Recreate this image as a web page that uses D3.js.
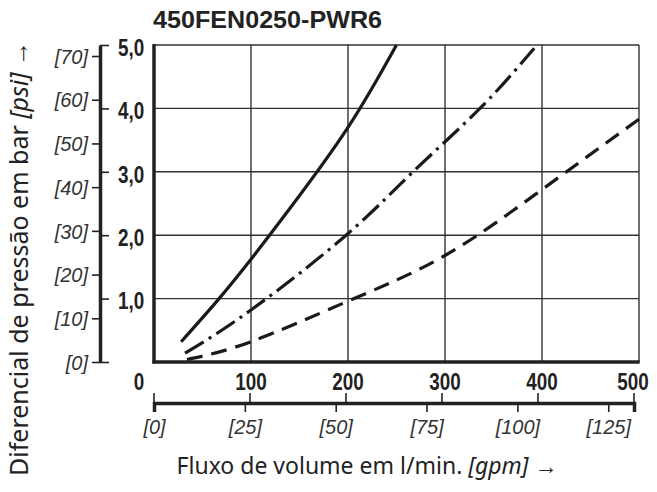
<!DOCTYPE html>
<html lang="pt">
<head>
<meta charset="UTF-8">
<title>450FEN0250-PWR6</title>
<script src="https://cdnjs.cloudflare.com/ajax/libs/d3/7.8.5/d3.min.js"></script>
<style>
	body{margin:0;background:#fff;}
	svg{display:block;}
	.num{font-family:"Liberation Sans",Arial,sans-serif;font-weight:bold;font-size:23px;fill:#222;}
	.alt{font-family:"Liberation Sans",Arial,sans-serif;font-style:italic;font-size:20px;fill:#333;}
	.ttl{font-family:"Noto Sans","Open Sans",sans-serif;font-size:23px;fill:#222;}
	.head{font-family:"Liberation Sans",Arial,sans-serif;font-weight:bold;font-size:23px;fill:#222;}
	.grid line{stroke:#333;stroke-width:1.4;}
	.curve{fill:none;stroke:#1a1a1a;stroke-width:3.2;}
</style>
</head>
<body>
<svg width="657" height="492"></svg>
<script>
// chart data
var title = "450FEN0250-PWR6";
var flowTicks = [0, 100, 200, 300, 400, 500];   // l/min
var barTicks = [0, 1, 2, 3, 4, 5];               // bar
var psiTicks = [0, 10, 20, 30, 40, 50, 60, 70];  // psi
var gpmTicks = [0, 25, 50, 75, 100, 125];        // gpm

var solidQ = [28, 66, 100, 140, 200, 250];
var solidP = [0.32, 0.98, 1.62, 2.42, 3.7, 5.0];

var dashDotQ = [32, 100, 198, 267, 336, 392];
var dashDotP = [0.14, 0.82, 2.0, 3.0, 4.0, 4.95];

var dashQ = [34, 100, 200, 300, 400, 500];
var dashP = [0.04, 0.32, 0.96, 1.68, 2.72, 3.83];

var PSI_PER_BAR = 14.5038, LPM_PER_GPM = 3.78541;

var svg = d3.select("svg");

var x = d3.scaleLinear().domain([0, 500]).range([154, 639]);
var y = d3.scaleLinear().domain([0, 5]).range([362, 45]);
var yPsi = d3.scaleLinear().domain([0, 5 * PSI_PER_BAR]).range([362, 45]);
var xGpm = d3.scaleLinear().domain([0, 500 / LPM_PER_GPM]).range([154, 634]);

// squeeze bold numbers a bit, the original uses a condensed face
function narrow(sel, k) {
	sel.each(function() {
		var w = this.getComputedTextLength();
		if (w > 0) d3.select(this).attr("textLength", w * k).attr("lengthAdjust", "spacingAndGlyphs");
	});
}

// grid
var grid = svg.append("g").attr("class", "grid");
grid.selectAll(".v").data(flowTicks.slice(1)).enter().append("line")
	.attr("x1", d => x(d)).attr("x2", d => x(d))
	.attr("y1", y(0)).attr("y2", y(5));
grid.selectAll(".h").data(barTicks.slice(1)).enter().append("line")
	.attr("x1", x(0)).attr("x2", x(500))
	.attr("y1", d => y(d)).attr("y2", d => y(d));

// thick frame left + bottom
svg.append("line").attr("x1", x(0)).attr("x2", x(0)).attr("y1", y(5) - 1).attr("y2", y(0) + 1.5)
	.attr("stroke", "#222").attr("stroke-width", 3.5);
svg.append("line").attr("x1", x(0) - 1.5).attr("x2", x(500) + 0.7).attr("y1", y(0)).attr("y2", y(0))
	.attr("stroke", "#222").attr("stroke-width", 3.5);

// curves
var line = d3.line().x(d => x(d[0])).y(d => y(d[1])).curve(d3.curveNatural);
var curves = [
	{q: solidQ, p: solidP, dash: null},
	{q: dashDotQ, p: dashDotP, dash: "22,6,3,6"},
	{q: dashQ, p: dashP, dash: "16,9"}
];
svg.selectAll(".curve").data(curves).enter().append("path")
	.attr("class", "curve")
	.attr("d", d => line(d3.zip(d.q, d.p)))
	.attr("stroke-dasharray", d => d.dash);

// left double axis: psi on the left, bar on the right
var psiAxis = svg.append("g").attr("transform", "translate(100,0)")
	.call(d3.axisLeft(yPsi).tickValues(psiTicks).tickSize(8).tickPadding(4).tickSizeOuter(0)
		.tickFormat(d => "[" + d + "]"));
psiAxis.select(".domain").attr("stroke", "#222").attr("stroke-width", 3.5);
psiAxis.selectAll(".tick line").attr("stroke", "#222").attr("stroke-width", 1.6);
psiAxis.selectAll(".tick text").attr("class", "alt").attr("fill", null).attr("dy", "0.36em");

var barAxis = svg.append("g").attr("transform", "translate(100,0)")
	.call(d3.axisRight(y).tickValues(barTicks).tickSize(9).tickPadding(9).tickSizeOuter(0)
		.tickFormat(d => d === 0 ? "" : d.toFixed(1).replace(".", ",")));
barAxis.select(".domain").remove();
barAxis.selectAll(".tick line").attr("stroke", "#222").attr("stroke-width", 1.6);
barAxis.selectAll(".tick text").attr("class", "num").attr("fill", null).attr("dy", "0.45em")
	.call(narrow, 0.82);

// flow labels (l/min)
svg.selectAll(".flowlab").data(flowTicks).enter().append("text")
	.attr("class", "num")
	.attr("text-anchor", "middle")
	.attr("x", d => x(d) + (d === 0 ? -15 : d === 500 ? -6 : 0))
	.attr("y", 390)
	.text(d => d)
	.call(narrow, 0.82);

// bottom gpm axis
var gpmAxis = svg.append("g").attr("transform", "translate(0,403)")
	.call(d3.axisBottom(xGpm).tickValues(gpmTicks).tickSize(9).tickPadding(8).tickSizeOuter(9)
		.tickFormat(d => "[" + d + "]"));
gpmAxis.select(".domain").attr("stroke", "#222").attr("stroke-width", 3.5);
gpmAxis.selectAll(".tick line").attr("stroke", "#222").attr("stroke-width", 1.6);
gpmAxis.selectAll(".tick text").attr("class", "alt").attr("fill", null);
gpmAxis.selectAll(".up").data(flowTicks).enter().append("line")
	.attr("x1", d => xGpm(d / LPM_PER_GPM)).attr("x2", d => xGpm(d / LPM_PER_GPM))
	.attr("y1", 0).attr("y2", -10)
	.attr("stroke", "#222").attr("stroke-width", 1.6);

// titles
svg.append("text").attr("class", "head")
	.attr("x", 153).attr("y", 28)
	.attr("textLength", 229).attr("lengthAdjust", "spacingAndGlyphs")
	.text(title);

var xt = svg.append("text").attr("class", "ttl")
	.attr("x", 367).attr("y", 474).attr("text-anchor", "middle");
xt.append("tspan").text("Fluxo de volume em l/min. ");
xt.append("tspan").attr("font-style", "italic").text("[gpm]");
xt.append("tspan").text(" \u2192");

var yt = svg.append("text").attr("class", "ttl")
	.attr("transform", "translate(28,476) rotate(-90)").attr("text-anchor", "start")
	.style("font-size", "25px");
yt.append("tspan").text("Diferencial de pressão em bar ");
yt.append("tspan").attr("font-style", "italic").text("[psi]");
yt.append("tspan").text(" \u2192");
</script>
</body>
</html>
